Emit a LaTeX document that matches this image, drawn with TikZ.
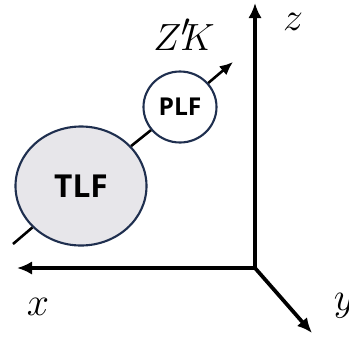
\documentclass[tikz,border=0pt]{standalone}
\usepackage{fontspec}
\setsansfont{Open Sans}
\usetikzlibrary{positioning,arrows.meta,shapes.geometric}
\definecolor{rim}{HTML}{1F2F4F}
\definecolor{core}{HTML}{E7E6EA}

\begin{document}
\begin{tikzpicture}[
  x=0.03cm, y=-0.03cm,
  axis/.style={line width=3.2pt, -{Latex[length=4.5mm,width=4mm]}},
  ray/.style={line width=2.2pt},
  fault/.style={
    ellipse, draw=rim, line width=1.8pt, inner sep=0pt,
    font=\sffamily\bfseries,
  },
  axlbl/.style={font=\Huge, scale=1.37, inner sep=0pt},
]
  \useasboundingbox (0,0) rectangle (349,337);

  % Axes
  \coordinate (orig) at (255,268);
  \coordinate (zTip) at (255,3);
  \coordinate (xTip) at (17,268);
  \coordinate (yTip) at (312,333);
  \draw[axis] (orig) -- (zTip);
  \draw[axis] (orig) -- (xTip);
  \draw[axis] (orig) -- (yTip);

  \node[axlbl] (zLbl) at (293,22)  {$z$};
  \node[axlbl] (xLbl) at (38,307)  {$x$};
  \node[axlbl] (yLbl) at (344,306) {$y$};

  % Fault zones on the Z' axis
  \node[fault, fill=core, minimum width=3.93cm, minimum height=3.57cm,
        font=\sffamily\bfseries\fontsize{27}{27}\selectfont] (tlf) at (81,186) {TLF};
  \node[fault, fill=white, minimum width=2.19cm, minimum height=2.13cm,
        font=\sffamily\bfseries\fontsize{21}{21}\selectfont] (plf) at (180,107) {PLF};

  \coordinate (rayTail) at (13,244);
  \coordinate (rayHead) at (233,62);
  \draw[ray] (rayTail) -- (tlf);
  \draw[ray] (tlf) -- (plf);
  \draw[ray, -{Latex[length=4mm,width=3.5mm]}] (plf) -- (rayHead);

  \node[font=\Huge, scale=1.3, inner sep=0pt] (zkLbl) at (184,35) {$Z'\mkern-5mu K$};
\end{tikzpicture}
\end{document}
